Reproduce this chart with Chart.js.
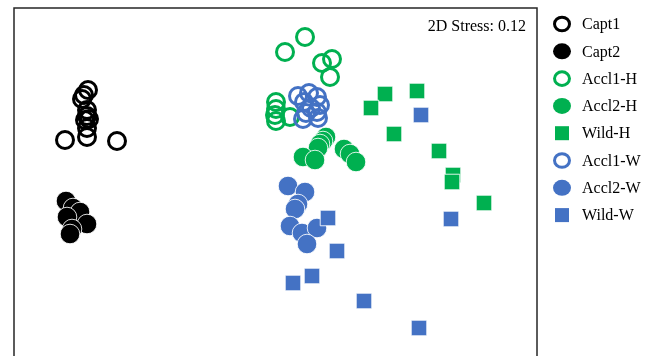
<!DOCTYPE html>
<html>
<head>
<meta charset="utf-8">
<script src="https://cdn.jsdelivr.net/npm/chart.js@4"></script>
<style>
  html, body { margin: 0; padding: 0; background: #fff; overflow: hidden; }
  #wrap { width: 656px; height: 370px; }
</style>
</head>
<body>
<div id="wrap"><canvas id="c" width="656" height="370"></canvas></div>
<script>
// NMDS ordination coordinates [NMDS1, NMDS2] per group
const capt1 = [[-0.94,0.50],[-0.96,0.475],[-0.97,0.455],[-0.945,0.40],[-0.945,0.37],[-0.955,0.35],[-0.935,0.355],[-0.945,0.31],[-1.055,0.25],[-0.945,0.265],[-0.795,0.245]];
const capt2 = [[-1.05,-0.055],[-1.015,-0.09],[-0.98,-0.11],[-1.045,-0.135],[-0.945,-0.17],[-1.02,-0.195],[-1.03,-0.22]];
const accl1H = [[0.145,0.765],[0.045,0.69],[0.23,0.635],[0.28,0.655],[0.27,0.565],[0.0,0.44],[0.0,0.405],[-0.005,0.375],[0.0,0.345],[0.07,0.365]];
const accl2H = [[0.25,0.265],[0.235,0.245],[0.22,0.23],[0.21,0.21],[0.135,0.165],[0.195,0.15],[0.34,0.205],[0.37,0.18],[0.40,0.14]];
const wildH = [[0.545,0.48],[0.705,0.495],[0.475,0.41],[0.59,0.28],[0.815,0.195],[0.885,0.075],[0.88,0.04],[1.04,-0.065]];
const accl1W = [[0.11,0.47],[0.165,0.485],[0.205,0.465],[0.14,0.44],[0.22,0.425],[0.175,0.41],[0.15,0.385],[0.205,0.39],[0.135,0.355],[0.21,0.36]];
const accl2W = [[0.06,0.02],[0.145,-0.01],[0.11,-0.07],[0.095,-0.095],[0.07,-0.18],[0.13,-0.215],[0.205,-0.19],[0.155,-0.27]];
const wildW = [[0.725,0.375],[0.875,-0.145],[0.26,-0.14],[0.305,-0.305],[0.18,-0.43],[0.085,-0.465],[0.44,-0.555],[0.715,-0.69]];

const groupNames = ['Capt1','Capt2','Accl1-H','Accl2-H','Wild-H','Accl1-W','Accl2-W','Wild-W'];
const groupData = [capt1, capt2, accl1H, accl2H, wildH, accl1W, accl2W, wildW];
const stressLabel = '2D Stress: 0.12';

const BLACK = '#000000', GREEN = '#00B050', BLUE = '#4472C4';
const styles = [
  {color: BLACK, shape: 'circle', fill: false},
  {color: BLACK, shape: 'circle', fill: true},
  {color: GREEN, shape: 'circle', fill: false},
  {color: GREEN, shape: 'circle', fill: true},
  {color: GREEN, shape: 'rect', fill: true},
  {color: BLUE, shape: 'circle', fill: false},
  {color: BLUE, shape: 'circle', fill: true},
  {color: BLUE, shape: 'rect', fill: true}
];

const datasets = groupNames.map((name, i) => {
  const s = styles[i];
  const open = !s.fill;
  return {
    label: name,
    data: groupData[i].map(p => ({x: p[0], y: p[1]})),
    pointStyle: s.shape,
    pointRadius: s.shape === 'rect' ? 11 : (open ? 8.5 : 9.8),
    pointHoverRadius: s.shape === 'rect' ? 11 : (open ? 8.5 : 9.8),
    backgroundColor: open ? 'rgba(255,255,255,0)' : s.color,
    borderColor: open ? s.color : 'rgba(255,255,255,0.85)',
    borderWidth: open ? 3 : 1,
    order: groupNames.length - 1 - i,
    _shape: s.shape, _fill: s.fill, _color: s.color
  };
});

// frame around the plotting region, stress note and the key on the right
const decorations = {
  id: 'decorations',
  afterDraw(chart) {
    const {ctx, chartArea: a} = chart;
    ctx.save();
    ctx.strokeStyle = '#262626';
    ctx.lineWidth = 1.5;
    ctx.strokeRect(a.left, a.top, a.right - a.left, a.bottom - a.top);

    ctx.fillStyle = '#000';
    ctx.font = '16px "Liberation Serif", "Times New Roman", serif';
    ctx.textAlign = 'right';
    ctx.textBaseline = 'middle';
    ctx.fillText(stressLabel, a.right - 11, 27);

    const mx = 562, tx = 582, y0 = 24, dy = 27.3;
    chart.data.datasets.forEach((ds, i) => {
      const y = y0 + i * dy;
      ctx.beginPath();
      if (ds._shape === 'rect') {
        ctx.fillStyle = ds._color;
        ctx.fillRect(mx - 7, y - 7, 14, 14);
      } else if (ds._fill) {
        ctx.fillStyle = ds._color;
        ctx.ellipse(mx, y, 9, 8, 0, 0, Math.PI * 2);
        ctx.fill();
      } else {
        ctx.strokeStyle = ds._color;
        ctx.lineWidth = 3;
        ctx.ellipse(mx, y, 7.5, 6.8, 0, 0, Math.PI * 2);
        ctx.stroke();
      }
      ctx.fillStyle = '#000';
      ctx.textAlign = 'left';
      ctx.fillText(ds.label, tx, y + 1);
    });
    ctx.restore();
  }
};

new Chart(document.getElementById('c'), {
  type: 'scatter',
  data: {datasets},
  options: {
    responsive: false,
    animation: false,
    events: [],
    layout: {autoPadding: false, padding: {left: 14, right: 119, top: 8, bottom: 8}},
    scales: {
      x: {type: 'linear', display: false, min: -1.31, max: 1.305},
      y: {type: 'linear', display: false, min: -0.86, max: 0.91}
    },
    plugins: {legend: {display: false}, tooltip: {enabled: false}}
  },
  plugins: [decorations]
});
</script>
</body>
</html>
